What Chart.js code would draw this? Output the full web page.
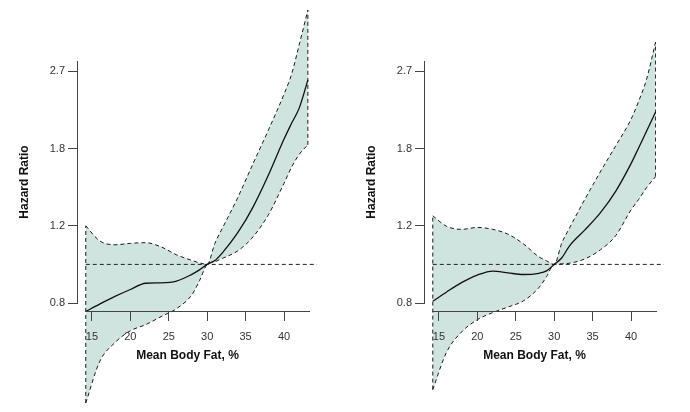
<!DOCTYPE html>
<html>
<head>
<meta charset="utf-8">
<script src="https://cdn.jsdelivr.net/npm/chart.js@4/dist/chart.umd.min.js"></script>
<style>
  html, body { margin: 0; padding: 0; background: #ffffff; overflow: hidden; }
  #wrap { position: relative; width: 690px; height: 412px; overflow: hidden; }
  .panel { position: absolute; top: 0; width: 345px; height: 412px; }
  .panel canvas { position: absolute; left: 0; top: 0; }
</style>
</head>
<body>
<div id="wrap">
  <div class="panel" style="left:0px">
    <canvas id="leftData" width="345" height="412"></canvas>
    <canvas id="leftAxes" width="345" height="412"></canvas>
  </div>
  <div class="panel" style="left:347px">
    <canvas id="rightData" width="345" height="412"></canvas>
    <canvas id="rightAxes" width="345" height="412"></canvas>
  </div>
</div>
<script>
// ---------------- data ----------------
const leftBodyFat  = [14.2, 16, 18, 20, 22, 24, 26, 28, 29, 30, 31, 32, 34, 36, 38, 40, 41, 42, 43.1];
const leftHR       = [0.784, 0.814, 0.847, 0.878, 0.907, 0.909, 0.917, 0.950, 0.972, 1.0, 1.020, 1.063, 1.180, 1.349, 1.592, 1.914, 2.079, 2.252, 2.597];
const leftLower    = [0.488, 0.604, 0.667, 0.709, 0.732, 0.763, 0.795, 0.854, 0.919, 1.0, 1.014, 1.032, 1.073, 1.155, 1.296, 1.522, 1.656, 1.770, 1.857];
const leftUpper    = [1.221, 1.130, 1.107, 1.115, 1.119, 1.095, 1.051, 1.021, 1.008, 1.0, 1.115, 1.208, 1.416, 1.690, 2.011, 2.415, 2.683, 3.131, 3.732];

const rightBodyFat = [14.2, 16, 18, 20, 22, 24, 26, 28, 29, 30, 31, 32, 34, 36, 38, 40, 41, 42, 43.2];
const rightHR      = [0.826, 0.867, 0.911, 0.946, 0.966, 0.957, 0.949, 0.955, 0.967, 1.0, 1.035, 1.101, 1.196, 1.306, 1.460, 1.685, 1.830, 1.990, 2.200];
const rightLower   = [0.523, 0.635, 0.706, 0.751, 0.779, 0.802, 0.828, 0.886, 0.938, 1.0, 1.003, 1.006, 1.029, 1.078, 1.160, 1.326, 1.400, 1.486, 1.576];
const rightUpper   = [1.286, 1.218, 1.199, 1.211, 1.199, 1.169, 1.112, 1.040, 1.019, 1.0, 1.118, 1.208, 1.402, 1.614, 1.847, 2.120, 2.330, 2.600, 3.163];

const refBodyFat   = [14.2, 44.3];   // extent of the HR = 1 reference line
const refHR        = 1;

const xTickValues  = [15, 20, 25, 30, 35, 40];
const yTickValues  = [0.8187, 1.2214, 1.8221, 2.7183];
const yTickLabels  = ['0.8', '1.2', '1.8', '2.7'];

const xTitle = 'Mean Body Fat, %';
const yTitle = 'Hazard Ratio';

// ---------------- styling ----------------
const FONT = "'Liberation Sans', Arial, sans-serif";
const AXIS_COLOR = '#444444';
const LINE_COLOR = '#1a1a1a';
const BAND_COLOR = '#cfe3df';
Chart.defaults.font.family = FONT;

function dataChart(id, xs, hr, lo, up) {
  const pts = ys => xs.map((x, i) => ({ x: x, y: ys[i] }));
  const n = xs.length - 1;
  const dashed = {
    borderColor: LINE_COLOR, borderWidth: 1, borderDash: [4, 3],
    pointRadius: 0, fill: false, tension: 0
  };
  return new Chart(document.getElementById(id), {
    type: 'line',
    data: {
      datasets: [
        { label: 'Hazard ratio', data: pts(hr), borderColor: '#111111', borderWidth: 1.3,
          pointRadius: 0, fill: false, cubicInterpolationMode: 'monotone' },
        { label: 'Reference', data: refBodyFat.map(x => ({ x: x, y: refHR })),
          borderColor: '#222222', borderWidth: 1, borderDash: [4, 3], pointRadius: 0,
          fill: false, clip: false },
        Object.assign({ label: 'CI start', data: [{ x: xs[0], y: lo[0] }, { x: xs[0], y: up[0] }] }, dashed),
        Object.assign({ label: 'CI end', data: [{ x: xs[n], y: lo[n] }, { x: xs[n], y: up[n] }] }, dashed),
        Object.assign({ label: 'Lower 95% CI', data: pts(lo), cubicInterpolationMode: 'monotone' }, dashed),
        Object.assign({}, dashed, { label: 'Upper 95% CI', data: pts(up), cubicInterpolationMode: 'monotone',
          fill: '-1', backgroundColor: BAND_COLOR })
      ]
    },
    options: {
      responsive: false, animation: false, events: [],
      layout: { padding: { left: 85, right: 36, top: 2, bottom: 2 } },
      plugins: { legend: { display: false }, tooltip: { enabled: false } },
      scales: {
        x: {
          type: 'linear', min: 14.1, max: 43.25,
          position: { y: 0.782 },
          afterBuildTicks: s => { s.ticks = xTickValues.map(v => ({ value: v })); },
          ticks: { font: { size: 11 }, color: '#333333', padding: 9, maxRotation: 0, autoSkip: false, z: 1 },
          grid: { display: true, drawOnChartArea: false, drawTicks: true, tickLength: 9, color: AXIS_COLOR, z: 1 },
          border: { display: true, color: AXIS_COLOR, width: 1, z: 1 }
        },
        y: { type: 'logarithmic', display: false, min: 0.4705, max: 3.891 }
      }
    }
  });
}

function axesChart(id) {
  return new Chart(document.getElementById(id), {
    type: 'line',
    data: { datasets: [] },
    options: {
      responsive: false, animation: false, events: [],
      layout: { padding: { left: 0, right: 47, top: 61, bottom: 49 } },
      plugins: { legend: { display: false }, tooltip: { enabled: false } },
      scales: {
        x: {
          type: 'linear', min: 0, max: 1, position: 'bottom',
          ticks: { display: false }, grid: { display: false }, border: { display: false },
          title: { display: true, text: xTitle, color: '#111111', padding: 0,
                   font: { size: 12, weight: 'bold' } },
          afterFit: s => { s.height = 60; }
        },
        y: {
          type: 'logarithmic', position: 'left', min: 0.8187, max: 2.867,
          afterBuildTicks: s => { s.ticks = yTickValues.map(v => ({ value: v })); },
          ticks: { callback: (v, i) => yTickLabels[i], font: { size: 11 }, color: '#333333',
                   padding: 3, autoSkip: false },
          grid: { display: true, drawOnChartArea: false, drawTicks: true, tickLength: 9, color: AXIS_COLOR },
          border: { display: true, color: AXIS_COLOR, width: 1 },
          title: { display: true, text: yTitle, color: '#111111', padding: { top: 17.8, bottom: 0 },
                   font: { size: 12, weight: 'bold' } },
          afterFit: s => { s.width = 77; }
        }
      }
    }
  });
}

dataChart('leftData', leftBodyFat, leftHR, leftLower, leftUpper);
axesChart('leftAxes');
dataChart('rightData', rightBodyFat, rightHR, rightLower, rightUpper);
axesChart('rightAxes');
</script>
</body>
</html>
